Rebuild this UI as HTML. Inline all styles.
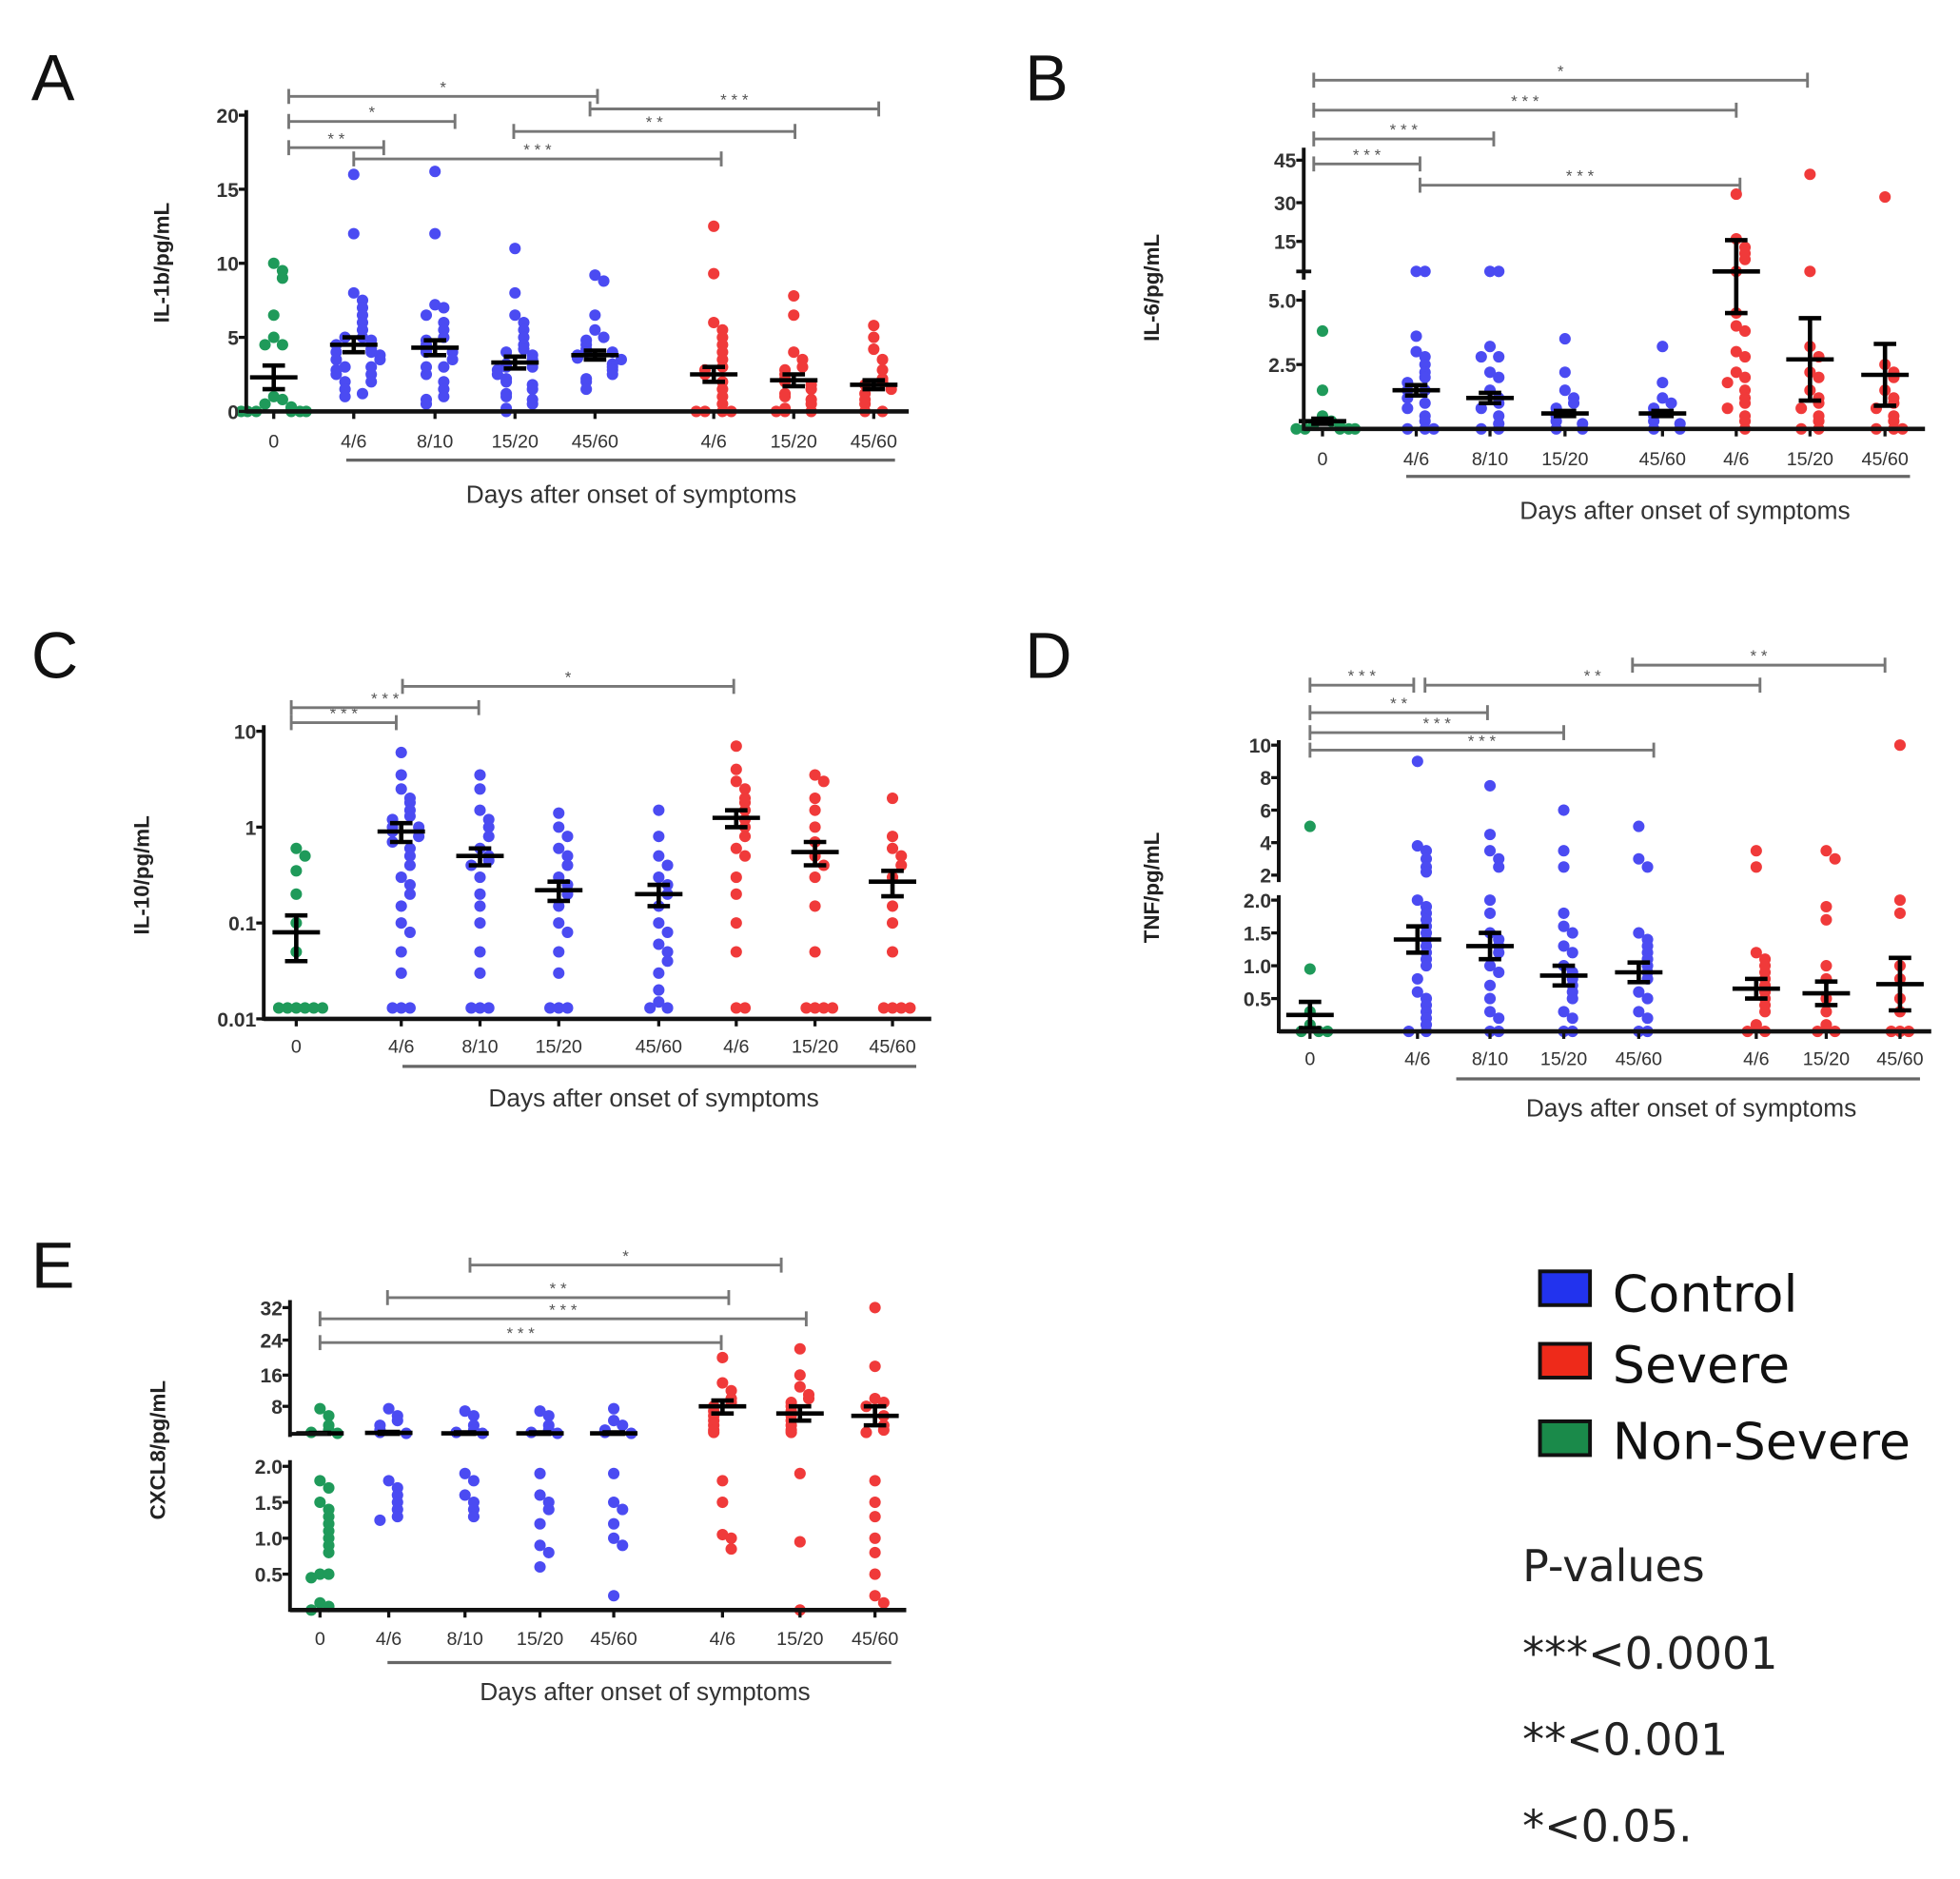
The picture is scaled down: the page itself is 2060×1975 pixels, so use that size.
<!DOCTYPE html>
<html><head><meta charset="utf-8">
<style>
html,body{margin:0;padding:0;background:#fff;}
svg{display:block;}
.lib{font-family:"Liberation Sans",sans-serif;}
.dv{font-family:"DejaVu Sans",sans-serif;}
</style></head>
<body>
<svg id="fig" width="2060" height="1975" viewBox="0 0 1568 1503" xmlns="http://www.w3.org/2000/svg">
<rect width="1568" height="1503" fill="#fff"/>
<g>
 <rect x="1232" y="1017" width="40" height="27" fill="#2233ee" stroke="#111" stroke-width="3"/>
 <text class="dv" x="1290" y="1049" font-size="41" fill="#111">Control</text>
 <rect x="1232" y="1075" width="40" height="27" fill="#ee2a1a" stroke="#111" stroke-width="3"/>
 <text class="dv" x="1290" y="1106" font-size="41" fill="#111">Severe</text>
 <rect x="1232" y="1137" width="40" height="27" fill="#1a8a4a" stroke="#111" stroke-width="3"/>
 <text class="dv" x="1290" y="1167" font-size="41" fill="#111">Non-Severe</text>
 <text class="dv" x="1218" y="1265" font-size="35" fill="#222">P-values</text>
 <text class="dv" x="1218" y="1335" font-size="35" fill="#222">***&lt;0.0001</text>
 <text class="dv" x="1218" y="1404" font-size="35" fill="#222">**&lt;0.001</text>
 <text class="dv" x="1218" y="1473" font-size="35" fill="#222">*&lt;0.05.</text>
</g>
</svg>
<script>
// ---------- shared categories ----------
const categories = ["0","4/6","8/10","15/20","45/60","4/6","15/20","45/60"];
const groupColors = ["#1f9a5a","#4b4bf2","#4b4bf2","#4b4bf2","#4b4bf2","#f03a3a","#f03a3a","#f03a3a"];

// ---------- Panel A: IL-1b ----------
const aTicks = [0,5,10,15,20];
const aMeans = [2.3,4.5,4.3,3.3,3.8,2.5,2.1,1.8];
const aSems = [0.8,0.5,0.5,0.4,0.3,0.5,0.4,0.3];
const aPoints = [
 [10,9.5,9,6.5,5,4.5,4.5,1,0.8,0.5,0.3,0.2,0,0,0,0,0,0],
 [16,12,8,7.5,7,6.5,6,5.5,5,5,4.8,4.5,4.5,4.2,4,4,3.8,3.5,3.5,3,3,2.8,2.5,2.5,2,2,1.5,1.2,1],
 [16.2,12,7.2,7,6.5,6,5.5,5,4.8,4.5,4.2,4,4,3.5,3,3,2.5,2,1.5,1,0.8,0.5],
 [11,8,6.5,6,5.5,5,4.5,4.2,4,3.8,3.5,3.2,3,3,2.8,2.5,2.2,2,1.8,1.5,1.2,1,0.8,0.5,0.2,0],
 [9.2,8.8,6.5,5.5,5,4.8,4.5,4.2,4,4,3.8,3.6,3.5,3.2,3,2.8,2.5,2.2,2,1.5],
 [12.5,9.3,6,5.5,5,4.5,4,3.5,3,2.8,2.5,2,1.5,1,0.5,0,0,0,0],
 [7.8,6.5,4,3.5,3,2.8,2.5,2.2,2,1.8,1.5,1.2,1,0.8,0.5,0.2,0,0,0],
 [5.8,5,4.2,3.5,2.8,2.2,2,1.8,1.5,1.2,0.8,0.5,0,0]
];
// ---------- Panel B: IL-6 ----------
const bTicks = [2.5,5,15,30,45];
const bTickLabels = ["2.5","5.0","15","30","45"];
const bMeans = [0.3,1.5,1.2,0.6,0.6,10,2.7,2.1];
const bSems = [0.1,0.2,0.2,0.1,0.1,5.5,1.6,1.2];
const bPoints = [
 [3.8,1.5,0.5,0.3,0.2,0.1,0,0,0,0,0],
 [10,10,3.6,3,2.8,2.5,2.2,2,1.8,1.5,1.5,1.2,1,0.8,0.5,0.3,0,0,0],
 [10,10,3.2,2.8,2.8,2.2,2,1.5,1.2,1,0.8,0.5,0.2,0,0],
 [3.5,2.2,1.5,1.2,1,0.8,0.6,0.5,0.3,0.2,0,0],
 [3.2,1.8,1.2,1,0.8,0.6,0.5,0.3,0.2,0,0],
 [33,16,14,13,12,10,4.5,4,3.8,3,2.8,2.2,2,1.8,1.5,1.2,1,0.8,0.5,0.3,0],
 [40,10,3.2,2.8,2.2,2,1.5,1.2,1,0.8,0.5,0.3,0,0],
 [32,2.5,2.2,2,1.5,1.2,1,0.8,0.5,0.3,0,0,0]
];
// ---------- Panel C: IL-10 (log) ----------
const cTicks = [0.01,0.1,1,10];
const cTickLabels = ["0.01","0.1","1","10"];
const cMeans = [0.08,0.9,0.5,0.22,0.2,1.25,0.55,0.27];
const cSems = [0.04,0.2,0.1,0.05,0.05,0.25,0.15,0.08];
const cPoints = [
 [0.6,0.5,0.35,0.2,0.1,0.05,0.013,0.013,0.013,0.013,0.013,0.013],
 [6,3.5,2.5,2,1.8,1.5,1.3,1.2,1,1,0.9,0.8,0.7,0.6,0.5,0.4,0.3,0.25,0.2,0.15,0.1,0.08,0.05,0.03,0.013,0.013,0.013],
 [3.5,2.5,1.5,1.2,1,0.8,0.6,0.5,0.45,0.4,0.3,0.2,0.15,0.1,0.05,0.03,0.013,0.013,0.013],
 [1.4,1,0.8,0.6,0.5,0.4,0.3,0.25,0.2,0.15,0.1,0.08,0.05,0.03,0.013,0.013,0.013],
 [1.5,0.8,0.5,0.4,0.3,0.25,0.2,0.15,0.1,0.08,0.06,0.05,0.04,0.03,0.02,0.015,0.013,0.013],
 [7,4,3,2.5,2,1.8,1.5,1.2,1,0.8,0.6,0.5,0.3,0.2,0.1,0.05,0.013,0.013],
 [3.5,3,2,1.5,1,0.7,0.5,0.4,0.3,0.15,0.05,0.013,0.013,0.013,0.013],
 [2,0.8,0.6,0.5,0.4,0.3,0.15,0.1,0.05,0.013,0.013,0.013,0.013]
];
// ---------- Panel D: TNF ----------
const dTicks = [0.5,1.0,1.5,2.0,2,4,6,8,10];
const dTickLabels = ["0.5","1.0","1.5","2.0","2","4","6","8","10"];
const dTickSegment = [0,0,0,0,1,1,1,1,1];
const dMeans = [0.25,1.4,1.3,0.85,0.9,0.65,0.58,0.72];
const dSems = [0.2,0.2,0.2,0.15,0.15,0.15,0.18,0.4];
const dPoints = [
 [5,0.95,0.3,0.1,0,0,0],
 [9,3.8,3.5,3,2.5,2.2,2,1.9,1.8,1.7,1.6,1.5,1.4,1.3,1.2,1.1,1,0.8,0.6,0.5,0.4,0.3,0.2,0.1,0,0],
 [7.5,4.5,3.5,3,2.5,2,1.8,1.5,1.4,1.3,1.2,1,0.9,0.7,0.5,0.3,0.2,0,0],
 [6,3.5,2.5,1.8,1.6,1.5,1.3,1.2,1,0.9,0.8,0.7,0.6,0.5,0.3,0.2,0,0],
 [5,3,2.5,1.5,1.4,1.3,1.2,1.1,1,0.9,0.8,0.6,0.5,0.3,0.2,0,0],
 [3.5,2.5,1.2,1.1,1,0.9,0.8,0.7,0.6,0.5,0.4,0.3,0.1,0,0],
 [3.5,3,1.9,1.7,1,0.8,0.5,0.3,0.1,0,0],
 [10,2,1.8,1,0.8,0.5,0.3,0,0,0]
];
// ---------- Panel E: CXCL8 ----------
const eTicks = [0.5,1.0,1.5,2.0,8,16,24,32];
const eTickLabels = ["0.5","1.0","1.5","2.0","8","16","24","32"];
const eMeans = [2.3,2.4,2.3,2.3,2.3,8,6.5,6];
const eSems = [0.1,0.2,0.2,0.2,0.2,1.5,1.5,2];
const ePoints = [
 [7.5,6,4,3,2.5,2.3,1.8,1.7,1.5,1.4,1.3,1.2,1.1,1,0.9,0.8,0.5,0.5,0.45,0.1,0.05,0],
 [7.5,6,5,4,3,2.5,2.3,1.8,1.7,1.6,1.5,1.4,1.3,1.25],
 [7,6,4,3,2.5,2.3,1.9,1.8,1.6,1.5,1.4,1.3],
 [7,6,4,3,2.5,2.3,1.9,1.6,1.5,1.4,1.2,0.9,0.8,0.6],
 [7.5,5,4,3,2.5,2.3,1.9,1.5,1.4,1.2,1,0.9,0.2],
 [20,14,12,10,9,8,7,6,5,4,3,2.5,1.8,1.5,1.05,1,0.85],
 [22,16,13,11,10,9,8,7,6,5,4,3,2.5,1.9,0.95,0],
 [32,18,10,9,8,6,4,3,2.5,1.8,1.5,1.3,1,0.8,0.5,0.2,0.1]
];

const NS="http://www.w3.org/2000/svg";
const svg=document.getElementById('fig');
function mk(tag,attrs,parent){const e=document.createElementNS(NS,tag);for(const k in attrs)e.setAttribute(k,attrs[k]);(parent||svg).appendChild(e);return e;}
function piece(knots){return v=>{if(v<=knots[0][0])return knots[0][1];for(let i=1;i<knots.length;i++){if(v<=knots[i][0]){const a=knots[i-1],b=knots[i];return a[1]+(v-a[0])/(b[0]-a[0])*(b[1]-a[1]);}}const a=knots[knots.length-2],b=knots[knots.length-1];return a[1]+(v-a[0])/(b[0]-a[0])*(b[1]-a[1]);};}
const dLow=v=>825-v*52.5, dUp=v=>700-(v-2)*13;

const panels=[
 {id:'a',letter:'A',lx:25,ly:80,ax:197,xEnd:727,base:329,xs:[219,283,348,412,476,571,635,699],
  y:piece([[0,329],[20,92]]),ticks:aTicks,tickLabels:aTicks.map(String),segs:[[329,88]],
  means:aMeans,sems:aSems,pts:aPoints,ytitle:'IL-1b/pg/mL',ytx:135,yty:210,xly:358,ul:[277,716,368],tt:[505,402],
  brackets:[[231,478,77,'*'],[472,703,87,'***'],[231,364,97,'*'],[411,636,105,'**'],[231,307,118,'**'],[283,577,127,'***']]},
 {id:'b',letter:'B',lx:820,ly:80,ax:1043,xEnd:1540,base:343,xs:[1058,1133,1192,1252,1330,1389,1448,1508],
  y:piece([[0,343],[5,240],[10,217],[15,193],[30,162],[45,128]]),ticks:bTicks,tickLabels:bTickLabels,segs:[[343,232],[222,118]],breakTicks:[217],
  means:bMeans,sems:bSems,pts:bPoints,ytitle:'IL-6/pg/mL',ytx:927,yty:230,xly:372,ul:[1125,1528,381],tt:[1348,415],
  brackets:[[1051,1446,64,'*'],[1051,1389,88,'***'],[1051,1195,111,'***'],[1051,1136,131,'***'],[1136,1392,148,'***']]},
 {id:'c',letter:'C',lx:25,ly:542,ax:211,xEnd:745,base:815,xs:[237,321,384,447,527,589,652,714],
  y:v=>815-(Math.log10(v)+2)*76.7,ticks:cTicks,tickLabels:cTickLabels,segs:[[815,580]],
  means:cMeans,sems:cSems,pts:cPoints,ytitle:'IL-10/pg/mL',ytx:119,yty:700,xly:842,ul:[322,733,853],tt:[523,885],
  brackets:[[233,317,578,'***'],[233,383,566,'***'],[322,587,549,'*']]},
 {id:'d',letter:'D',lx:820,ly:542,ax:1023,xEnd:1545,base:825,xs:[1048,1134,1192,1251,1311,1405,1461,1520],
  y:v=>v<=2.05?dLow(v):dUp(v),tickY:(t,i)=>dTickSegment[i]?dUp(t):dLow(t),ticks:dTicks,tickLabels:dTickLabels,segs:[[825,716],[704,592]],
  means:dMeans,sems:dSems,pts:dPoints,ytitle:'TNF/pg/mL',ytx:927,yty:710,xly:852,ul:[1165,1536,863],tt:[1353,893],
  brackets:[[1048,1131,548,'***'],[1140,1408,548,'**'],[1306,1508,532,'**'],[1048,1190,570,'**'],[1048,1251,586,'***'],[1048,1323,600,'***']]},
 {id:'e',letter:'E',lx:25,ly:1030,ax:232,xEnd:725,base:1288,xs:[256,311,372,432,491,578,640,700],
  y:v=>v<=2.05?1288-v*57.5:piece([[2.2,1147],[8,1125],[16,1100],[24,1072],[32,1046]])(v),
  ticks:eTicks,tickLabels:eTickLabels,segs:[[1288,1168],[1148,1040]],upperBase:1147,
  means:eMeans,sems:eSems,pts:ePoints,ytitle:'CXCL8/pg/mL',ytx:132,yty:1160,xly:1316,ul:[310,713,1330],tt:[516,1360],
  brackets:[[376,625,1012,'*'],[310,583,1038,'**'],[256,645,1055,'***'],[256,577,1074,'***']]}
];

panels.forEach(p=>{
 const g=mk('g',{class:'lib'});
 
 
 const L=mk('text',{x:p.lx,y:p.ly,'font-size':52,fill:'#111'},g);L.textContent=p.letter;
 
 
 p.brackets.forEach(b=>{
  const bg=mk('g',{stroke:'#777','stroke-width':2.2,fill:'none'},g);
  
  
  mk('line',{x1:b[0],x2:b[1],y1:b[2],y2:b[2]},bg);
  mk('line',{x1:b[0],x2:b[0],y1:b[2]-6,y2:b[2]+6},bg);
  mk('line',{x1:b[1],x2:b[1],y1:b[2]-6,y2:b[2]+6},bg);
  const t=mk('text',{x:(b[0]+b[1])/2,y:b[2]-3,'font-size':13,'text-anchor':'middle',fill:'#555',stroke:'none'},g);t.textContent=b[3].split('').join(' ');
 });
 p.pts.forEach((vals,gi)=>{
  const placed=[];
  const sorted=vals.slice().sort((a,b)=>b-a);
  sorted.forEach(v=>{
   const yy=p.y(v);
   let k=0;placed.forEach(q=>{if(Math.abs(q-yy)<9)k++;});
   placed.push(yy);
   const off=(k%2?1:-1)*Math.ceil(k/2)*7;
   const c=mk('circle',{cx:p.xs[gi]+Math.max(-26,Math.min(26,off)),cy:yy,r:4.6,fill:groupColors[gi]},g);
   
   
  });
 });
 p.means.forEach((m,gi)=>{
  const eg=mk('g',{stroke:'#000','stroke-width':3.5},g);
  
  
  const x=p.xs[gi],ym=p.y(m),lo=p.y(Math.max(m-p.sems[gi],p.id==='c'?0.01:0)),hi=p.y(m+p.sems[gi]);
  mk('line',{x1:x-19,x2:x+19,y1:ym,y2:ym},eg);
  mk('line',{x1:x,x2:x,y1:lo,y2:hi},eg);
  mk('line',{x1:x-9,x2:x+9,y1:lo,y2:lo},eg);
  mk('line',{x1:x-9,x2:x+9,y1:hi,y2:hi},eg);
 });
 const ag=mk('g',{stroke:'#111','stroke-width':3},g);
 
 
 p.segs.forEach(s=>mk('line',{x1:p.ax,x2:p.ax,y1:s[0]+1.5,y2:s[1]},ag));
 (p.breakTicks||[]).forEach(by=>mk('line',{x1:p.ax-6,x2:p.ax+6,y1:by,y2:by},ag));
 if(p.upperBase)mk('line',{x1:p.ax,x2:p.xs[0]+6,y1:p.upperBase,y2:p.upperBase},ag);
 const xa=mk('line',{x1:p.ax,x2:p.xEnd,y1:p.base,y2:p.base,stroke:'#111','stroke-width':3.5},g);
 
 
 p.ticks.forEach((t,i)=>{
  const ty=p.tickY?p.tickY(t,i):p.y(t);
  mk('line',{x1:p.ax-6,x2:p.ax,y1:ty,y2:ty,stroke:'#111','stroke-width':2.5},g);
  const tl=mk('text',{x:p.ax-6,y:ty+6,'font-size':16,'text-anchor':'end',fill:'#333','font-weight':'bold'},g);
  tl.textContent=p.tickLabels[i];
  
  
 });
 categories.forEach((c,i)=>{
  mk('line',{x1:p.xs[i],x2:p.xs[i],y1:p.base,y2:p.base+6,stroke:'#111','stroke-width':2.5},g);
  const tl=mk('text',{x:p.xs[i],y:p.xly,'font-size':15,'text-anchor':'middle',fill:'#333'},g);
  tl.textContent=c;
  
  
 });
 const ul=mk('line',{x1:p.ul[0],x2:p.ul[1],y1:p.ul[2],y2:p.ul[2],stroke:'#666','stroke-width':2.5},g);
 
 
 const tt=mk('text',{x:p.tt[0],y:p.tt[1],'font-size':20,'text-anchor':'middle',fill:'#333'},g);
 tt.textContent='Days after onset of symptoms';
 
 
 const yt=mk('text',{x:p.ytx,y:p.yty,'font-size':17,'font-weight':'bold','text-anchor':'middle',fill:'#222',transform:'rotate(-90 '+p.ytx+' '+p.yty+')'},g);
 yt.textContent=p.ytitle;
 
 
});
</script>
</body></html>
